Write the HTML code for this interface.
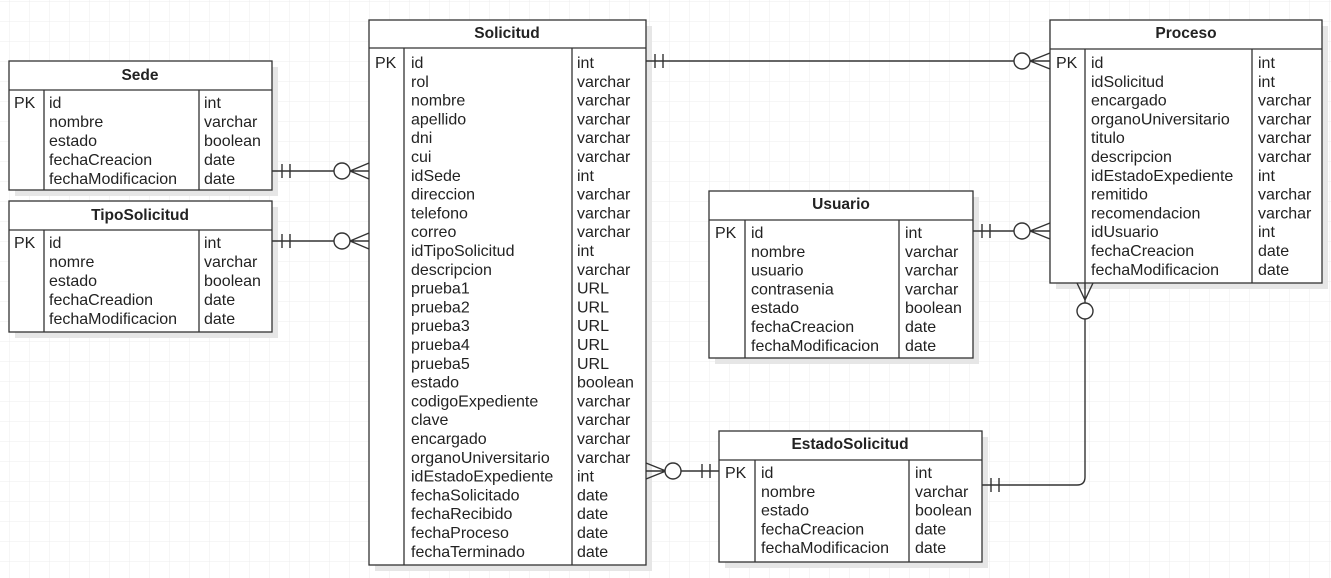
<!DOCTYPE html>
<html><head><meta charset="utf-8"><style>
html,body{margin:0;padding:0;background:#fff;}
svg{display:block;font-family:"Liberation Sans",sans-serif;}
text{font-size:16px;fill:#222;}
.h{font-weight:bold;text-anchor:middle;font-size:15.5px;}
</style></head><body>
<svg width="1331" height="578" xmlns="http://www.w3.org/2000/svg">
<defs>
<pattern id="g" width="20" height="20" patternUnits="userSpaceOnUse" x="9" y="1">
<path d="M20 0H0V20" fill="none" stroke="#ececec" stroke-width="1"/>
</pattern>
</defs>
<rect width="1331" height="578" fill="url(#g)"/>
<g fill="#e6e6e6">
<rect x="15" y="67" width="263" height="129"/>
<rect x="15" y="207" width="263" height="131"/>
<rect x="375" y="26" width="277" height="545"/>
<rect x="1056" y="26" width="272" height="263"/>
<rect x="715" y="197" width="264" height="167"/>
<rect x="725" y="437" width="263" height="131"/>
</g>
<g fill="#fff" stroke="#333" stroke-width="1.3">
<rect x="9" y="61" width="263" height="129"/><path d="M9 90H272M44 90V190M199 90V190"/>
<rect x="9" y="201" width="263" height="131"/><path d="M9 230H272M44 230V332M199 230V332"/>
<rect x="369" y="20" width="277" height="545"/><path d="M369 48H646M404 48V565M572 48V565"/>
<rect x="1050" y="20" width="272" height="263"/><path d="M1050 49H1322M1085 49V283M1252 49V283"/>
<rect x="709" y="191" width="264" height="167"/><path d="M709 220H973M745 220V358M899 220V358"/>
<rect x="719" y="431" width="263" height="131"/><path d="M719 460H982M755 460V562M909 460V562"/>
</g>
<text class="h" x="140" y="80">Sede</text>
<text x="14" y="108">PK</text>
<text x="49" y="108">id</text><text x="49" y="127">nombre</text><text x="49" y="146">estado</text><text x="49" y="165">fechaCreacion</text><text x="49" y="184">fechaModificacion</text>
<text x="204" y="108">int</text><text x="204" y="127">varchar</text><text x="204" y="146">boolean</text><text x="204" y="165">date</text><text x="204" y="184">date</text>
<text class="h" x="140" y="220">TipoSolicitud</text>
<text x="14" y="248">PK</text>
<text x="49" y="248">id</text><text x="49" y="267">nomre</text><text x="49" y="286">estado</text><text x="49" y="305">fechaCreadion</text><text x="49" y="324">fechaModificacion</text>
<text x="204" y="248">int</text><text x="204" y="267">varchar</text><text x="204" y="286">boolean</text><text x="204" y="305">date</text><text x="204" y="324">date</text>
<text class="h" x="507" y="38">Solicitud</text>
<text x="375" y="68">PK</text>
<g transform="translate(0,68)">
<text x="411" y="0">id</text><text x="577" y="0">int</text>
<text x="411" y="18.8">rol</text><text x="577" y="18.8">varchar</text>
<text x="411" y="37.6">nombre</text><text x="577" y="37.6">varchar</text>
<text x="411" y="56.4">apellido</text><text x="577" y="56.4">varchar</text>
<text x="411" y="75.2">dni</text><text x="577" y="75.2">varchar</text>
<text x="411" y="94">cui</text><text x="577" y="94">varchar</text>
<text x="411" y="112.8">idSede</text><text x="577" y="112.8">int</text>
<text x="411" y="131.6">direccion</text><text x="577" y="131.6">varchar</text>
<text x="411" y="150.4">telefono</text><text x="577" y="150.4">varchar</text>
<text x="411" y="169.2">correo</text><text x="577" y="169.2">varchar</text>
<text x="411" y="188">idTipoSolicitud</text><text x="577" y="188">int</text>
<text x="411" y="206.8">descripcion</text><text x="577" y="206.8">varchar</text>
<text x="411" y="225.6">prueba1</text><text x="577" y="225.6">URL</text>
<text x="411" y="244.4">prueba2</text><text x="577" y="244.4">URL</text>
<text x="411" y="263.2">prueba3</text><text x="577" y="263.2">URL</text>
<text x="411" y="282">prueba4</text><text x="577" y="282">URL</text>
<text x="411" y="300.8">prueba5</text><text x="577" y="300.8">URL</text>
<text x="411" y="319.6">estado</text><text x="577" y="319.6">boolean</text>
<text x="411" y="338.4">codigoExpediente</text><text x="577" y="338.4">varchar</text>
<text x="411" y="357.2">clave</text><text x="577" y="357.2">varchar</text>
<text x="411" y="376">encargado</text><text x="577" y="376">varchar</text>
<text x="411" y="394.8">organoUniversitario</text><text x="577" y="394.8">varchar</text>
<text x="411" y="413.6">idEstadoExpediente</text><text x="577" y="413.6">int</text>
<text x="411" y="432.4">fechaSolicitado</text><text x="577" y="432.4">date</text>
<text x="411" y="451.2">fechaRecibido</text><text x="577" y="451.2">date</text>
<text x="411" y="470">fechaProceso</text><text x="577" y="470">date</text>
<text x="411" y="488.8">fechaTerminado</text><text x="577" y="488.8">date</text>
</g>
<text class="h" x="1186" y="38">Proceso</text>
<text x="1056" y="68">PK</text>
<g transform="translate(0,68)">
<text x="1091" y="0">id</text><text x="1258" y="0">int</text>
<text x="1091" y="18.8">idSolicitud</text><text x="1258" y="18.8">int</text>
<text x="1091" y="37.6">encargado</text><text x="1258" y="37.6">varchar</text>
<text x="1091" y="56.4">organoUniversitario</text><text x="1258" y="56.4">varchar</text>
<text x="1091" y="75.2">titulo</text><text x="1258" y="75.2">varchar</text>
<text x="1091" y="94">descripcion</text><text x="1258" y="94">varchar</text>
<text x="1091" y="112.8">idEstadoExpediente</text><text x="1258" y="112.8">int</text>
<text x="1091" y="131.6">remitido</text><text x="1258" y="131.6">varchar</text>
<text x="1091" y="150.4">recomendacion</text><text x="1258" y="150.4">varchar</text>
<text x="1091" y="169.2">idUsuario</text><text x="1258" y="169.2">int</text>
<text x="1091" y="188">fechaCreacion</text><text x="1258" y="188">date</text>
<text x="1091" y="206.8">fechaModificacion</text><text x="1258" y="206.8">date</text>
</g>
<text class="h" x="841" y="209">Usuario</text>
<text x="715" y="238">PK</text>
<g transform="translate(0,238)">
<text x="751" y="0">id</text><text x="905" y="0">int</text>
<text x="751" y="18.8">nombre</text><text x="905" y="18.8">varchar</text>
<text x="751" y="37.6">usuario</text><text x="905" y="37.6">varchar</text>
<text x="751" y="56.4">contrasenia</text><text x="905" y="56.4">varchar</text>
<text x="751" y="75.2">estado</text><text x="905" y="75.2">boolean</text>
<text x="751" y="94">fechaCreacion</text><text x="905" y="94">date</text>
<text x="751" y="112.8">fechaModificacion</text><text x="905" y="112.8">date</text>
</g>
<text class="h" x="850" y="449">EstadoSolicitud</text>
<text x="725" y="478">PK</text>
<g transform="translate(0,478)">
<text x="761" y="0">id</text><text x="915" y="0">int</text>
<text x="761" y="18.8">nombre</text><text x="915" y="18.8">varchar</text>
<text x="761" y="37.6">estado</text><text x="915" y="37.6">boolean</text>
<text x="761" y="56.4">fechaCreacion</text><text x="915" y="56.4">date</text>
<text x="761" y="75.2">fechaModificacion</text><text x="915" y="75.2">date</text>
</g>
<g fill="none" stroke="#333" stroke-width="1.4">
<path d="M646 61H1014M655 54V68M663 54V68M1030 61L1050 53M1030 61L1050 69M1030 61H1050"/>
<circle cx="1022" cy="61" r="8" fill="#fff"/>
<path d="M272 171H334M282 164V178M290 164V178M350 171L369 163M350 171L369 179M350 171H369"/>
<circle cx="342" cy="171" r="8" fill="#fff"/>
<path d="M272 241H334M282 234V248M290 234V248M350 241L369 233M350 241L369 249M350 241H369"/>
<circle cx="342" cy="241" r="8" fill="#fff"/>
<path d="M973 231H1014M982 224V238M990 224V238M1030 231L1050 223M1030 231L1050 239M1030 231H1050"/>
<circle cx="1022" cy="231" r="8" fill="#fff"/>
<path d="M1085 283V303M1085 300L1077 283M1085 300L1093 283M1085 319V477Q1085 485 1077 485H982M991 478V492M999 478V492"/>
<circle cx="1085" cy="311" r="8" fill="#fff"/>
<path d="M646 471H666M666 471L646 463M666 471L646 479M681 471H719M702 464V478M710 464V478"/>
<circle cx="673" cy="471" r="8" fill="#fff"/>
</g>
</svg>
</body></html>
